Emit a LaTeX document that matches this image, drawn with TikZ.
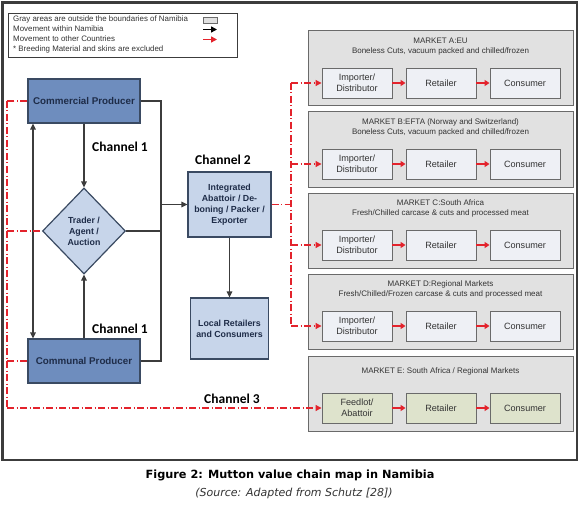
\documentclass[tikz,border=0pt]{standalone}
\usepackage{fontspec}
\setmainfont{Liberation Sans}
\newfontfamily\chanfont{Carlito}
\newfontfamily\capfont{DejaVu Sans}
\usetikzlibrary{shapes.geometric,arrows.meta}
\definecolor{prodblue}{HTML}{6E8DBE}
\definecolor{prodedge}{HTML}{3A4A62}
\definecolor{lblue}{HTML}{C7D5EA}
\definecolor{navy}{HTML}{1E2C48}
\definecolor{mktgray}{HTML}{E1E1E1}
\definecolor{mktedge}{HTML}{6A6A6A}
\definecolor{ibfill}{HTML}{EEF0F5}
\definecolor{efill}{HTML}{DEE3CC}
\definecolor{redc}{HTML}{E3232C}
\definecolor{txt}{HTML}{333333}
\definecolor{linec}{HTML}{3C3C3C}
\tikzset{
  prod/.style={draw=prodedge, fill=prodblue, line width=1.2pt, text=navy,
    font=\bfseries\fontsize{9.8}{11}\selectfont, inner sep=0pt,
    minimum width=112pt, minimum height=44pt},
  lbox/.style={draw=prodedge, fill=lblue, line width=1.2pt, text=navy,
    font=\bfseries\fontsize{8.8}{11}\selectfont, inner sep=0pt, align=center},
  mkt/.style={draw=mktedge, fill=mktgray, line width=1pt, inner sep=0pt,
    minimum width=265pt, minimum height=75pt},
  mtitle/.style={text=txt, font=\fontsize{8}{9}\selectfont, inner sep=0pt},
  ibox/.style={draw=mktedge, fill=ibfill, line width=0.9pt, text=txt,
    font=\fontsize{9.1}{11}\selectfont, inner sep=0pt, align=center,
    minimum width=70pt, minimum height=30pt},
  ebox/.style={ibox, fill=efill},
  blk/.style={draw=linec, line width=1.3pt},
  blkarr/.style={blk, -{Triangle[length=6pt,width=5.5pt]}},
  redl/.style={draw=redc, line width=1.1pt,
    dash pattern=on 7pt off 2.5pt on 1pt off 2.5pt},
  redarr/.style={redl, -{Triangle[length=6pt,width=6pt]}},
  rsolid/.style={draw=redc, line width=1.4pt, -{Triangle[length=5pt,width=6pt]}},
  chan/.style={font=\chanfont\bfseries\fontsize{13.5}{15}\selectfont, inner sep=0pt},
  legt/.style={text=txt, font=\fontsize{7.9}{9}\selectfont, inner sep=0pt, anchor=west}
}
\begin{document}
\begin{tikzpicture}[x=1pt,y=-1pt]
\useasboundingbox (0,0) rectangle (580,505);
\fill[white] (0,0) rectangle (580,505);
% outer frame
\draw[line width=2.5pt, draw=linec] (2.5,2.5) rectangle (577,460);

% legend
\node[draw=linec, line width=0.9pt, minimum width=229pt, minimum height=44pt, inner sep=0pt] (legend) at (122.5,35) {};
\node[legt] (lg1) at (13,19) {Gray areas are outside the boundaries of Namibia};
\node[legt] (lg2) at (13,29) {Movement within Namibia};
\node[legt] (lg3) at (13,39) {Movement to other Countries};
\node[legt] (lg4) at (13,49) {* Breeding Material and skins are excluded};
\node[draw=mktedge, fill=mktgray, line width=0.8pt, minimum width=14pt, minimum height=6pt, inner sep=0pt] (lgbox) at (210,20) {};
\coordinate (lgb1) at (203,29.5);
\coordinate (lgb2) at (217,29.5);
\coordinate (lgr1) at (203,39.5);
\coordinate (lgr2) at (217,39.5);
\draw[draw=black, line width=1.6pt, -{Triangle[length=6pt,width=6pt]}] (lgb1) -- (lgb2);
\draw[draw=redc, line width=1.6pt, -{Triangle[length=6pt,width=6pt]}] (lgr1) -- (lgr2);

% producers
\node[prod] (comm) at (84,101) {Commercial Producer};
\node[prod] (communal) at (84,361) {Communal Producer};
\node[diamond, draw=prodedge, fill=lblue, line width=1.2pt, text=navy,
  font=\bfseries\fontsize{8.8}{11}\selectfont, align=center, inner sep=0pt,
  minimum width=83pt, minimum height=86pt] (trader) at (84,231) {Trader /\\Agent /\\Auction};
\node[lbox, minimum width=83pt, minimum height=65pt] (integ) at (229.5,204.5)
  {Integrated\\Abattoir / De-\\boning / Packer /\\Exporter};
\node[lbox, minimum width=78pt, minimum height=61pt] (local) at (229.5,328.5)
  {Local Retailers\\and Consumers};

% channel labels
\node[chan] (ch1a) at (120,147) {Channel 1};
\node[chan] (ch2) at (223,160) {Channel 2};
\node[chan] (ch1b) at (120,329) {Channel 1};
\node[chan] (ch3) at (232,399) {Channel 3};

% markets
\foreach \m/\t in {A/31,B/112,C/193,D/274}{
  \node[mkt] (m\m) at (440.5,\t+37.5) {};
  \node[ibox] (i\m) at (357,\t+52) {Importer/\\Distributor};
  \node[ibox] (r\m) at (441,\t+52) {Retailer};
  \node[ibox] (c\m) at (525,\t+52) {Consumer};
  \draw[rsolid] (i\m) -- (r\m);
  \draw[rsolid] (r\m) -- (c\m);
}
\node[mkt] (mE) at (440.5,393.5) {};
\node[ebox] (iE) at (357,408) {Feedlot/\\Abattoir};
\node[ebox] (rE) at (441,408) {Retailer};
\node[ebox] (cE) at (525,408) {Consumer};
\draw[rsolid] (iE) -- (rE);
\draw[rsolid] (rE) -- (cE);

\node[mtitle] (tA) at (440.5,41) {MARKET A:EU};
\node[mtitle] (sA) at (440.5,51) {Boneless Cuts, vacuum packed and chilled/frozen};
\node[mtitle] (tB) at (440.5,122) {MARKET B:EFTA (Norway and Switzerland)};
\node[mtitle] (sB) at (440.5,132) {Boneless Cuts, vacuum packed and chilled/frozen};
\node[mtitle] (tC) at (440.5,203) {MARKET C:South Africa};
\node[mtitle] (sC) at (440.5,213) {Fresh/Chilled carcase \& cuts and processed meat};
\node[mtitle] (tD) at (440.5,284) {MARKET D:Regional Markets};
\node[mtitle] (sD) at (440.5,294) {Fresh/Chilled/Frozen carcase \& cuts and processed meat};
\node[mtitle] (tE) at (440.5,371) {MARKET E: South Africa / Regional Markets};

% black connectors
\coordinate (j) at (161,204.5);
\draw[blkarr] (comm.south) -- (trader.north);
\draw[blkarr] (communal.north) -- (trader.south);
\draw[blk, {Triangle[length=6pt,width=5.5pt]}-{Triangle[length=6pt,width=5.5pt]}]
  ([xshift=-51pt]comm.south) -- ([xshift=-51pt]communal.north);
\draw[blk] (comm.east) -| (j) |- (communal.east);
\draw[blk] (trader.east) -- (trader.east -| j);
\draw[blkarr] (j) -- (integ.west);
\draw[blkarr] (integ.south) -- (local.north);

% red connectors (left, channel 3)
\coordinate (lt) at (7,101);
\coordinate (lb) at (7,408);
\draw[redl] (comm.west) -- (lt);
\draw[redl] (lt) -- (lb);
\draw[redl] (trader.west -| lt) -- (trader.west);
\draw[redl] (communal.west -| lt) -- (communal.west);
\draw[redarr] (lb) -- (iE.west);

% red connectors (right)
\coordinate (rt) at (291,83);
\coordinate (rb) at (291,326);
\draw[redl] (integ.east) -- (integ.east -| rt);
\draw[redl] (rt) -- (rb);
\foreach \m in {A,B,C,D}{
  \draw[redarr] (i\m.west -| rt) -- (i\m.west);
}

% caption
\node[font=\capfont\bfseries\fontsize{11.3}{13}\selectfont, inner sep=0pt] (cap1) at (290,475) {Figure 2: Mutton value chain map in Namibia};
\node[font=\capfont\itshape\fontsize{11}{13}\selectfont, inner sep=0pt, text=txt] (cap2) at (294,493) {(Source: Adapted from Schutz [28])};
\end{tikzpicture}
\end{document}
